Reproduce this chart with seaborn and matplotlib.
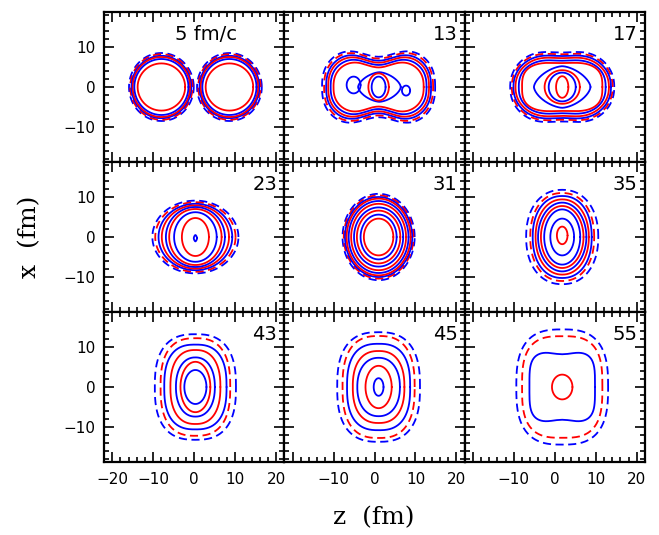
import numpy as np
import pandas as pd
import seaborn as sns
import matplotlib.pyplot as plt
from matplotlib.ticker import MultipleLocator

# Snapshot times (fm/c), one per panel, read row by row
times = [5, 13, 17, 23, 31, 35, 43, 45, 55]

# z of the system centre in each column (fm)
z_centre = [0.3, 1.0, 1.8]

# Contours: (species, dashed, a_z, b_x, squareness, waist, dz, dx)
# species "n" drawn blue, "p" drawn red; a_z/b_x are half-widths in fm
t05 = [("n", True, 7.9, 8.5, 2, 0, -8.3, 0), ("n", True, 7.9, 8.5, 2, 0, 8.3, 0),
       ("p", True, 7.6, 8.2, 2, 0, -8.3, 0), ("p", True, 7.6, 8.2, 2, 0, 8.3, 0),
       ("n", False, 7.3, 7.8, 2, 0, -8.3, 0), ("n", False, 7.3, 7.8, 2, 0, 8.3, 0),
       ("p", False, 7.0, 7.5, 2, 0, -8.3, 0), ("p", False, 7.0, 7.5, 2, 0, 8.3, 0),
       ("n", False, 6.6, 7.0, 2, 0, -8.3, 0), ("n", False, 6.6, 7.0, 2, 0, 8.3, 0),
       ("p", False, 5.8, 5.9, 2, 0, -8.3, 0), ("p", False, 5.8, 5.9, 2, 0, 8.3, 0)]
t13 = [("n", True, 13.8, 10.5, 2.5, 0.28, 0, 0), ("p", True, 13.3, 10.0, 2.5, 0.29, 0, 0),
       ("n", False, 12.8, 9.4, 2.5, 0.30, 0, 0), ("p", False, 12.3, 8.8, 2.5, 0.31, 0, 0),
       ("n", False, 11.7, 8.1, 2.5, 0.32, 0, 0), ("p", False, 11.0, 7.3, 2.5, 0.33, 0, 0),
       ("n", False, 5.2, 3.7, 1.6, 0, 0.2, 0), ("n", False, 1.7, 2.1, 2, 0, -6.1, 0.5),
       ("n", False, 1.0, 1.25, 2, 0, 6.7, -0.9), ("p", False, 2.5, 3.4, 2, 0, 0, 0),
       ("n", False, 1.7, 2.6, 2, 0, 0, 0)]
t17 = [("n", True, 12.7, 9.8, 2.2, 0.12, 0, 0), ("p", True, 12.3, 9.3, 2.2, 0.12, 0, 0),
       ("n", False, 11.9, 8.8, 2.2, 0.12, 0, 0), ("p", False, 11.4, 8.2, 2.2, 0.12, 0, 0),
       ("n", False, 10.6, 7.3, 2.4, 0.1, 0, 0), ("p", False, 9.8, 6.3, 3, 0.05, 0, 0),
       ("n", False, 6.9, 5.2, 1.6, 0, 0, 0), ("p", False, 4.3, 4.2, 2, 0, 0, 0),
       ("n", False, 3.3, 3.6, 2, 0, 0, 0), ("p", False, 1.5, 2.7, 2, 0, 0, 0)]
t23 = [("n", True, 10.5, 9.1, 2, 0, 0, 0), ("p", True, 9.8, 8.7, 2, 0, 0, 0),
       ("n", False, 9.0, 8.3, 2, 0, 0, 0), ("p", False, 8.2, 7.9, 2, 0, 0, 0),
       ("n", False, 7.2, 7.5, 2, 0, 0, 0), ("p", False, 6.4, 7.0, 2, 0, 0, 0),
       ("n", False, 5.2, 6.2, 2, 0, 0, 0), ("p", False, 3.3, 4.75, 2, 0, 0, 0),
       ("n", False, 0.4, 0.8, 1.5, 0, 0, -0.3)]
t31 = [("n", True, 8.8, 10.8, 2, 0, 0, 0), ("p", True, 8.5, 10.4, 2, 0, 0, 0),
       ("n", False, 8.2, 10.0, 2, 0, 0, 0), ("p", False, 7.8, 9.6, 2, 0, 0, 0),
       ("n", False, 7.3, 9.0, 2, 0, 0, 0), ("p", False, 6.7, 8.3, 2, 0, 0, 0),
       ("n", False, 6.0, 7.4, 2, 0, 0, 0), ("p", False, 5.3, 6.6, 2, 0, 0, 0),
       ("n", False, 4.4, 5.6, 2, 0, 0, 0), ("p", False, 3.6, 4.6, 2, 0, 0, 0)]
t35 = [("n", True, 8.8, 11.8, 2.2, 0, 0, 0), ("p", True, 7.8, 11.0, 2.2, 0, 0, 0),
       ("n", False, 7.2, 10.25, 2.2, 0, 0, 0), ("p", False, 6.5, 9.4, 2.1, 0, 0, 0),
       ("n", False, 5.9, 8.6, 2, 0, 0, 0), ("p", False, 5.2, 7.75, 2, 0, 0, 0),
       ("n", False, 4.4, 6.9, 2, 0, 0, 0), ("n", False, 2.9, 4.6, 2, 0, 0, 0),
       ("p", False, 1.3, 2.2, 2, 0, 0, 0.4)]
t43 = [("n", True, 9.9, 13.2, 2.6, 0, 0, 0), ("p", True, 8.5, 12.2, 2.6, 0, 0, 0),
       ("n", False, 7.6, 10.6, 2.6, 0, 0, 0), ("p", False, 6.1, 9.25, 2.4, 0, 0, 0),
       ("n", False, 4.75, 7.4, 2.2, 0, 0, 0), ("p", False, 3.65, 6.3, 2, 0, 0, 0),
       ("n", False, 2.7, 4.25, 2, 0, 0, 0)]
t45 = [("n", True, 10.1, 13.7, 2.6, 0, 0, 0), ("p", True, 8.8, 12.75, 2.6, 0, 0, 0),
       ("n", False, 7.7, 10.8, 2.6, 0, 0, 0), ("p", False, 6.3, 9.0, 2.4, 0, 0, 0),
       ("n", False, 5.2, 7.3, 2.2, 0, 0, 0), ("p", False, 3.2, 5.3, 2, 0, 0, 0),
       ("n", False, 1.2, 2.2, 2, 0, 0, 0)]
t55 = [("n", True, 11.2, 14.4, 2.8, 0, 0, 0), ("p", True, 9.8, 12.7, 3, 0, 0, 0),
       ("n", False, 8.0, 8.9, 4, 0.08, 0, 0), ("p", False, 2.5, 3.1, 2, 0, 0, 0)]

panels = [t05, t13, t17, t23, t31, t35, t43, t45, t55]
colors = {"n": "#0000ff", "p": "#ff0000"}


def contour_xy(a, b, p, w, z0, x0):
    t = np.linspace(0, 2 * np.pi, 241)
    c, s = np.cos(t), np.sin(t)
    dz = a * np.sign(c) * np.abs(c) ** (2 / p)
    dx = b * np.sign(s) * np.abs(s) ** (2 / p)
    dx = dx * (1 - w * np.exp(-(dz / (0.45 * a)) ** 2))
    return z0 + dz, x0 + dx


sns.set_style("ticks", {"axes.edgecolor": "black", "text.color": "black",
                        "xtick.color": "black", "ytick.color": "black"})
plt.rcParams["font.family"] = ["DejaVu Sans"]

W, H = 659, 535
fig = plt.figure(figsize=(W / 100, H / 100), dpi=100)
left, right, top, bottom = 104, 645, 12, 462
pw = (right - left) / 3
ph = (bottom - top) / 3

for i, (tm, conts) in enumerate(zip(times, panels)):
    r, c = divmod(i, 3)
    ax = fig.add_axes([(left + c * pw) / W, 1 - (top + (r + 1) * ph) / H, pw / W, ph / H])
    for sp, dashed, a, b, p, w, z0, x0 in conts:
        zz, xx = contour_xy(a, b, p, w, z0 + z_centre[c], x0)
        df = pd.DataFrame({"z": zz, "x": xx})
        sns.lineplot(data=df, x="z", y="x", sort=False, estimator=None, ax=ax,
                     color=colors[sp], linewidth=1.3,
                     linestyle=(0, (4.5, 2.5)) if dashed else "-")
    ax.set_xlim(-22, 22)
    ax.set_ylim(-18.75, 18.75)
    ax.set_xlabel("")
    ax.set_ylabel("")
    ax.set_xticks([-20, -10, 0, 10, 20])
    ax.set_yticks([-10, 0, 10])
    ax.xaxis.set_minor_locator(MultipleLocator(2))
    ax.yaxis.set_minor_locator(MultipleLocator(2))
    ax.tick_params(which="both", direction="in", top=True, right=True, width=1.2,
                   labelsize=11, colors="black")
    ax.tick_params(which="major", length=7)
    ax.tick_params(which="minor", length=3.5)
    ax.tick_params(axis="x", pad=7)
    ax.tick_params(axis="y", pad=6)
    for s in ax.spines.values():
        s.set_linewidth(1.6)
        s.set_color("black")
    if r == 2:
        labs = ["\u221220", "\u221210", "0", "10", "20"]
        if c > 0:
            labs[0] = ""
        ax.set_xticklabels(labs)
    else:
        ax.set_xticklabels([])
    if c == 0:
        ax.set_yticklabels(["\u221210", "0", "10"])
    else:
        ax.set_yticklabels([])
    if i == 0:
        ax.text(0.74, 0.85, f"{tm} fm/c", transform=ax.transAxes, ha="right",
                va="center", fontsize=14, color="black")
    else:
        ax.text(0.96, 0.85, f"{tm}", transform=ax.transAxes, ha="right",
                va="center", fontsize=14, color="black")

fig.text(374 / W, 1 - 518 / H, "z  (fm)", ha="center", va="center",
         fontsize=18, family="DejaVu Serif", color="black")
fig.text(30 / W, 1 - 237 / H, "x  (fm)", ha="center", va="center",
         rotation=90, fontsize=18, family="DejaVu Serif", color="black")

fig.savefig("out.png", dpi=100)
